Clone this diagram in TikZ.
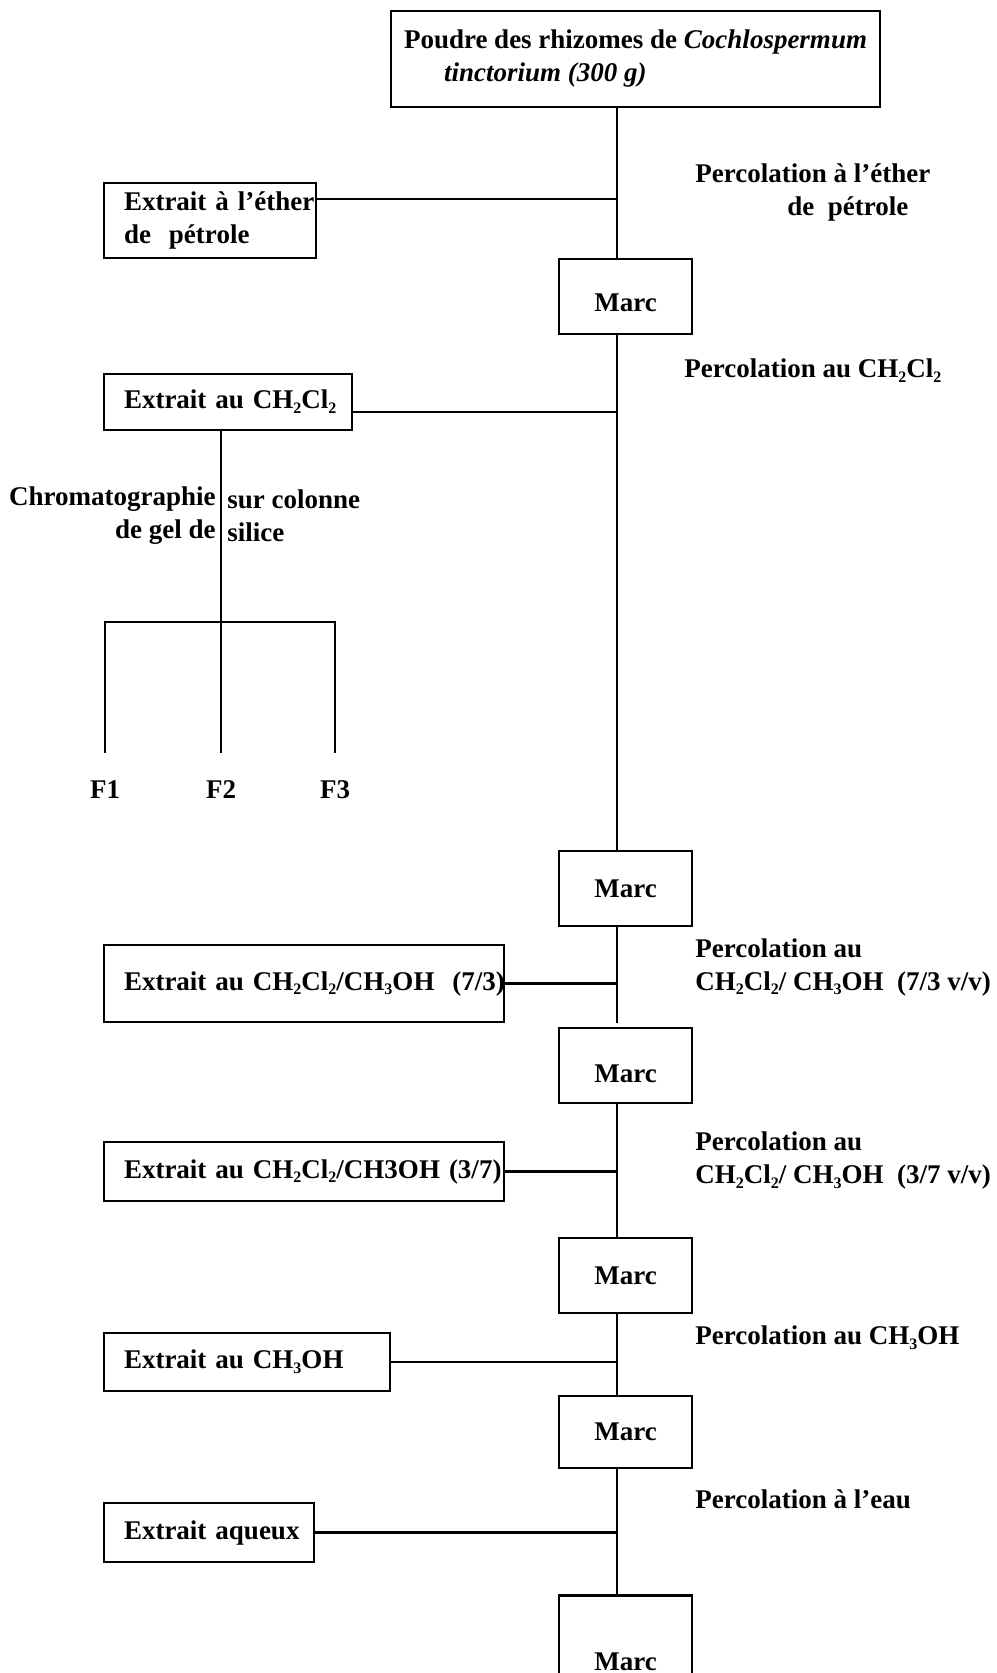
\documentclass[tikz,border=0pt]{standalone}
\usepackage{fontspec}
\setmainfont{Liberation Serif}
\newcommand{\lo}[1]{\raisebox{-0.4ex}{\fontsize{8}{8}\selectfont #1}}
\newcommand{\dcm}{CH\lo{2}Cl\lo{2}}
\newcommand{\meoh}{CH\lo{3}OH}

\begin{document}
\begin{tikzpicture}[x=0.5pt,y=-0.5pt,line width=1.4pt,
            every node/.style={font=\fontsize{13.5}{16.5}\selectfont\bfseries},
            box/.style={draw,rectangle,inner xsep=10pt,align=left},
            marc/.style={draw,rectangle,minimum width=66.5pt,minimum height=37.5pt},
            perco/.style={anchor=west,align=left,inner sep=0pt}
          ]
          \useasboundingbox (0,0) rectangle (996,1673);
          \coordinate (spine) at (617,0);

          %powder
          \node[box,inner xsep=6pt,minimum width=244.5pt,minimum height=48pt] (top) at (635.5,59)
            {Poudre des rhizomes de \textit{Cochlospermum}\\\hspace*{20pt}\textit{tinctorium (300 g)}};

          %marcs
          \node[marc,text height=15pt] (m1) at (625.5,296.5) {Marc};
          \node[marc] (m2) at (625.5,888.5) {Marc};
          \node[marc,text height=17pt] (m3) at (625.5,1065.5) {Marc};
          \node[marc] (m4) at (625.5,1275.5) {Marc};
          \node[marc,minimum height=36pt] (m5) at (625.5,1432) {Marc};
          \node[marc,text height=34pt] (m6) at (625.5,1636.5) {Marc};

          %extracts
          \node[box,text width=86pt,minimum height=37.5pt] (e1) at (210,220.5) {\mbox{Extrait à l'éther}\\de\ \ pétrole};
          \node[box,text width=104pt,minimum height=28pt] (e2) at (228,402) {\mbox{Extrait au \dcm}};
          \node[box,text width=180pt,minimum height=38.5pt] (e3) at (304,983.5) {\mbox{Extrait au \dcm/\meoh\ \ (7/3)}};
          \node[box,text width=180pt,minimum height=29.5pt] (e4) at (304,1171.5) {\mbox{Extrait au \dcm/CH3OH (3/7)}};
          \node[box,text width=123pt,minimum height=29pt] (e5) at (247,1362) {\mbox{Extrait au \meoh}};
          \node[box,text width=85pt,minimum height=29.5pt] (e6) at (209,1532.5) {\mbox{Extrait aqueux}};

          %percolations
          \node[perco] (p1) at (694,192.5) {Percolation à l'éther\\\hspace*{46pt}de\ \ pétrole};
          \node[perco] (p2) at (683,371) {Percolation au \dcm};
          \node[perco] (p3) at (694,967) {Percolation au\\\dcm/ \meoh\ \ (7/3 v/v)};
          \node[perco] (p4) at (694,1160.5) {Percolation au\\\dcm/ \meoh\ \ (3/7 v/v)};
          \node[perco] (p5) at (694,1338) {Percolation au \meoh};
          \node[perco] (p6) at (694,1499) {Percolation à l'eau};

          %column
          \node[anchor=east,align=right,inner sep=0pt] (chl) at (217,516) {Chromatographie\\de gel de};
          \node[anchor=west,align=left,inner sep=0pt] (chr) at (226,516) {sur colonne\\silice};
          \node (f1) at (105,790) {F1};
          \node (f2) at (221,790) {F2};
          \node (f3) at (335,790) {F3};
          \coordinate (bar) at (0,622);
          \coordinate (low) at (0,753);
          \draw (e2.south -| f2) -- (f2 |- low);
          \draw (f1 |- low) |- (f3 |- bar) -- (f3 |- low);

          %main line
          \draw (top.south -| spine) -- (m1.north -| spine);
          \draw (m1.south -| spine) -- (m2.north -| spine);
          \draw (m2.south -| spine) -- (e3.south -| spine);
          \draw (m3.south -| spine) -- (m4.north -| spine);
          \draw (m4.south -| spine) -- (m5.north -| spine);
          \draw (m5.south -| spine) -- (m6.north -| spine);

          %branches
          \draw ([yshift=10.75pt]e1.east) -- ([yshift=10.75pt]e1.east -| spine);
          \draw ([yshift=-5pt]e2.east) -- ([yshift=-5pt]e2.east -| spine);
          \foreach \e in {e3,e4,e5,e6}
            \draw (\e.east) -- (\e.east -| spine);
      \end{tikzpicture}
\end{document}
